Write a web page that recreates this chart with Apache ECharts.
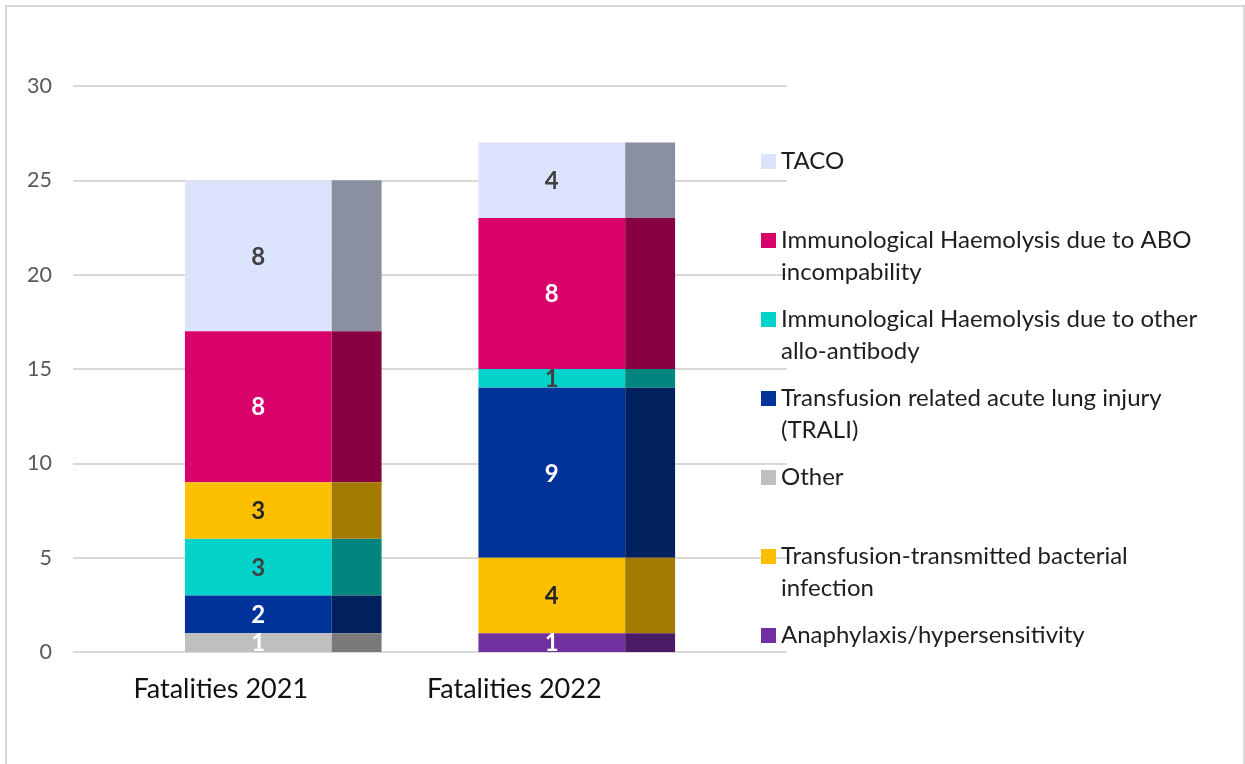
<!DOCTYPE html>
<html lang="en">
<head>
    <meta charset="UTF-8">
    <title>Fatalities</title>
    <style>html, body { margin: 0; padding: 0; background: #fff; }</style>
</head>
<body>
<div class="main" style="width: 1245px;height: 764px"></div>
<script src="https://cdn.jsdelivr.net/npm/echarts@6/dist/echarts.min.js"></script>
<script>
    // categories
    var years = ['Fatalities 2021', 'Fatalities 2022'];

    // series (legend order)
    var names = [
        'TACO',
        'Immunological Haemolysis due to ABO incompability',
        'Immunological Haemolysis due to other allo-antibody',
        'Transfusion related acute lung injury (TRALI)',
        'Other',
        'Transfusion-transmitted bacterial infection',
        'Anaphylaxis/hypersensitivity'
    ];
    var legendLabels = [
        'TACO',
        'Immunological Haemolysis due to ABO\nincompability',
        'Immunological Haemolysis due to other\nallo-antibody',
        'Transfusion related acute lung injury\n(TRALI)',
        'Other',
        'Transfusion-transmitted bacterial\ninfection',
        'Anaphylaxis/hypersensitivity'
    ];

    // values per year [2021, 2022]
    var taco = [8, 4];
    var abo = [8, 8];
    var allo = [3, 1];
    var trali = [2, 9];
    var other = [1, 0];
    var bacterial = [3, 4];
    var anaphylaxis = [0, 1];
    var values = [taco, abo, allo, trali, other, bacterial, anaphylaxis];

    // stacking order bottom -> top (index into names), not the same in both years
    var stackOrder = [
        [4, 3, 2, 5, 1, 0],
        [6, 5, 3, 2, 1, 0]
    ];

    var yTicks = [0, 5, 10, 15, 20, 25, 30];

    var frontColors = ['#DCE3FC', '#D9026B', '#03D3CB', '#003399', '#BFBFBF', '#FDC000', '#7030A0'];
    var sideColors = ['#8A90A0', '#870041', '#00867F', '#00205E', '#7A7A7A', '#A37A00', '#4A1C66'];
    var labelColors = ['#404040', '#ffffff', '#404040', '#ffffff', '#ffffff', '#262626', '#ffffff'];

    var FONT = 'Lato, "Liberation Sans", sans-serif';
    var LH = 31.5;

    var main = document.querySelector(".main");
    var chart = echarts.init(main);

    // build stacked segments [cat, base, top, value]
    var seriesData = names.map(function () { return []; });
    years.forEach(function (y, ci) {
        var base = 0;
        stackOrder[ci].forEach(function (si) {
            var v = values[si][ci];
            if (v) seriesData[si].push([ci, base, base + v, v]);
            base += v;
        });
    });

    function makeRender(si) {
        return function (params, api) {
            var ci = api.value(0);
            var p0 = api.coord([ci, api.value(1)]);
            var p1 = api.coord([ci, api.value(2)]);
            var band = api.size([1, 0])[0];
            var w = band * 0.5;
            var d = band * 0.17;
            var x = p0[0] - band * 0.122;
            var h = p0[1] - p1[1];
            return {
                type: 'group',
                children: [
                    {type: 'rect', shape: {x: x, y: p1[1], width: w, height: h}, style: {fill: frontColors[si]}},
                    {type: 'rect', shape: {x: x + w, y: p1[1], width: d, height: h}, style: {fill: sideColors[si]}},
                    {
                        type: 'text', x: x + w / 2, y: p1[1] + h / 2 + 1,
                        style: {
                            text: String(api.value(3)), fill: labelColors[si],
                            fontFamily: FONT, fontSize: 24, fontWeight: 'bold',
                            align: 'center', verticalAlign: 'middle'
                        }
                    }
                ]
            };
        };
    }

    var series = names.map(function (n, si) {
        return {
            name: n,
            type: 'custom',
            xAxisIndex: 1,
            yAxisIndex: 1,
            itemStyle: {color: frontColors[si]},
            encode: {x: 0, y: [1, 2]},
            renderItem: makeRender(si),
            data: seriesData[si]
        };
    });

    // one legend per item so the icon sits on the first text line
    var legends = names.map(function (n, i) {
        var twoLine = legendLabels[i].indexOf('\n') >= 0;
        var c = 161.5 + 79 * i;
        return {
            data: [n],
            orient: 'vertical',
            left: 761,
            top: twoLine ? c - 1.5 * LH : c - 0.5 * LH,
            padding: 0,
            icon: 'rect',
            itemWidth: 15,
            itemHeight: 15,
            formatter: function () { return twoLine ? ' \n' + legendLabels[i] : legendLabels[i]; },
            textStyle: {fontFamily: FONT, fontSize: 24, color: '#1e1e1e', lineHeight: LH}
        };
    });

    var option = {
        animation: false,
        backgroundColor: '#fff',
        graphic: [{
            type: 'rect', silent: true,
            shape: {x: 6, y: 6, width: 1238, height: 800},
            style: {fill: 'none', stroke: '#d9d9d9', lineWidth: 2}
        }],
        legend: legends,
        grid: [
            {left: 73, right: 458, top: 86, bottom: 112},
            {left: 74, width: 587, top: 86, bottom: 112}
        ],
        xAxis: [
            {gridIndex: 0, type: 'value', min: 0, max: 1, show: false},
            {
                gridIndex: 1, type: 'category', data: years,
                axisLine: {show: false}, axisTick: {show: false},
                axisLabel: {fontFamily: FONT, fontSize: 27, color: '#111', margin: 24}
            }
        ],
        yAxis: [
            {
                gridIndex: 0, type: 'value', min: yTicks[0], max: yTicks[yTicks.length - 1], interval: 5,
                axisLine: {show: false}, axisTick: {show: false},
                axisLabel: {fontFamily: FONT, fontSize: 21.5, color: '#595959', margin: 21},
                splitLine: {lineStyle: {color: '#d9d9d9', width: 2}}
            },
            {
                gridIndex: 1, type: 'value', min: yTicks[0], max: yTicks[yTicks.length - 1], interval: 5,
                show: false, splitLine: {show: false}
            }
        ],
        series: series
    };
    chart.setOption(option);
</script>
</body>
</html>
